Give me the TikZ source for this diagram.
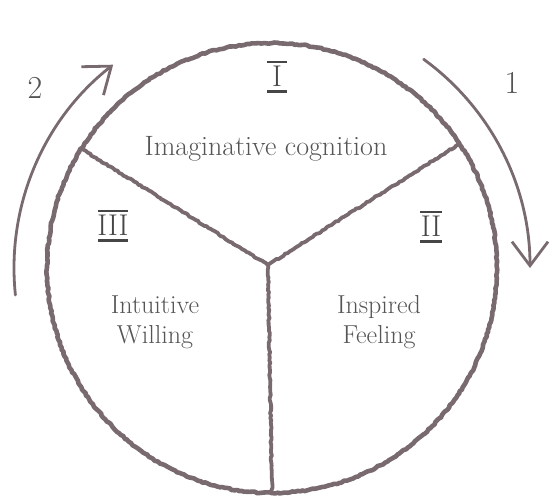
\documentclass[tikz,border=0pt]{standalone}
\usetikzlibrary{arrows.meta,decorations.pathmorphing,calc}
\definecolor{ink}{RGB}{120,106,110}
\definecolor{txt}{RGB}{85,85,85}
\definecolor{numc}{RGB}{70,70,70}
\begin{document}
\begin{tikzpicture}[x=1pt,y=-1pt,
  sketch/.style={draw=ink, decorate, decoration={random steps,segment length=2.5pt,amplitude=0.7pt}, line join=round, line cap=round},
  rim/.style={sketch, line width=4.6pt},
  spoke/.style={sketch, line width=3.8pt},
  turn/.style={draw=ink, line width=2.8pt, line cap=round, -{Straight Barb[length=24pt,width=36pt,line width=2.8pt]}},
  lbl/.style={text=txt, font=\fontsize{26}{30}\selectfont, align=center},
  toplbl/.style={text=txt, font=\fontsize{28}{30}\selectfont},
  num/.style={text=numc, font=\fontsize{30}{30}\selectfont, inner sep=0pt},
  digit/.style={text=txt, font=\fontsize{32}{32}\selectfont},
  obar/.style={draw=numc, line width=2pt},
  ubar/.style={draw=numc, line width=3.5pt}
]
\useasboundingbox (0,0) rectangle (552,499);
\coordinate (c) at (272,268);
\coordinate (hub) at (268,265);
\coordinate (jl) at ($(c)+(148:225 and -225)$);
\coordinate (jr) at ($(c)+(33.5:225 and -225)$);
\coordinate (jb) at ($(c)+(270:225 and -225)$);
% rim
\draw[rim] (c) circle (225);
% spokes
\draw[spoke] (hub) -- (jl);
\draw[spoke] (hub) -- (jr);
\draw[spoke] (hub) -- (jb);
% turning arrows
\coordinate (a2s) at ($(c)+(186:258 and -258)$);
\coordinate (a1s) at ($(c)+(54:258 and -258)$);
\draw[turn] (a2s) arc[start angle=-186, end angle=-128, radius=258];
\draw[turn] (a1s) arc[start angle=-54, end angle=0, radius=258];
\node[digit] (d2) at (35,88) {2};
\node[digit] (d1) at (512,83) {1};
% numerals
\node[num] (n1) at (277,76) {I};
\draw[obar] ($(n1.north)+(-10,-4)$) -- ($(n1.north)+(10,-4)$);
\draw[ubar] ($(n1.south)+(-10,5)$) -- ($(n1.south)+(10,5)$);
\node[num] (n2) at (431,226) {II};
\draw[obar] ($(n2.north)+(-11,-4)$) -- ($(n2.north)+(11,-4)$);
\draw[ubar] ($(n2.south)+(-11,5)$) -- ($(n2.south)+(11,5)$);
\node[num] (n3) at (113,225) {III};
\draw[obar] ($(n3.north)+(-15,-4)$) -- ($(n3.north)+(15,-4)$);
\draw[ubar] ($(n3.south)+(-15,5)$) -- ($(n3.south)+(15,5)$);
% labels
\node[toplbl, anchor=base] (t1) at (266,155) {Imaginative cognition};
\node[lbl] (t3) at (155,322) {Intuitive\\Willing};
\node[lbl] (t2) at (379,322) {Inspired\\Feeling};
\end{tikzpicture}
\end{document}
